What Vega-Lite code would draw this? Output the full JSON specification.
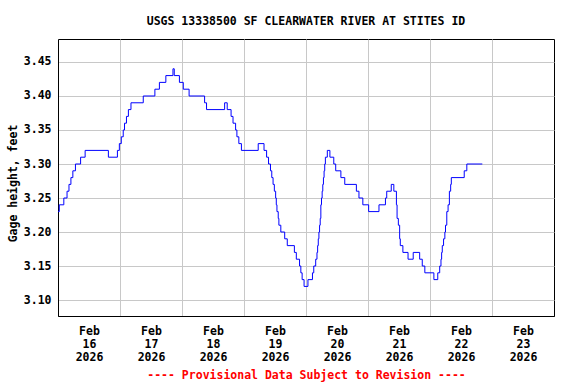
{
  "$schema": "https://vega.github.io/schema/vega-lite/v6.json",
  "width": 496,
  "height": 277,
  "autosize": {"type": "none"},
  "padding": {"left": 58, "top": 39, "right": 22, "bottom": 68},
  "background": "white",
  "config": {
    "font": "DejaVu Sans Mono",
    "view": {"stroke": "black", "strokeWidth": 1}
  },
  "title": {
    "text": "USGS 13338500 SF CLEARWATER RIVER AT STITES ID",
    "font": "DejaVu Sans Mono",
    "fontSize": 11.5,
    "fontWeight": "bold",
    "color": "black",
    "anchor": "middle",
    "frame": "group",
    "baseline": "alphabetic",
    "offset": 3
  },
  "data": {
    "values": [
      {"t": "2026-02-16T00:00", "v": 3.23},
      {"t": "2026-02-16T00:30", "v": 3.24},
      {"t": "2026-02-16T02:15", "v": 3.25},
      {"t": "2026-02-16T03:30", "v": 3.26},
      {"t": "2026-02-16T04:15", "v": 3.27},
      {"t": "2026-02-16T05:00", "v": 3.28},
      {"t": "2026-02-16T05:45", "v": 3.29},
      {"t": "2026-02-16T06:45", "v": 3.30},
      {"t": "2026-02-16T08:45", "v": 3.31},
      {"t": "2026-02-16T10:30", "v": 3.32},
      {"t": "2026-02-16T19:30", "v": 3.31},
      {"t": "2026-02-16T23:00", "v": 3.32},
      {"t": "2026-02-16T23:45", "v": 3.33},
      {"t": "2026-02-17T00:30", "v": 3.34},
      {"t": "2026-02-17T01:15", "v": 3.35},
      {"t": "2026-02-17T01:45", "v": 3.36},
      {"t": "2026-02-17T02:30", "v": 3.37},
      {"t": "2026-02-17T03:15", "v": 3.38},
      {"t": "2026-02-17T04:15", "v": 3.39},
      {"t": "2026-02-17T09:00", "v": 3.40},
      {"t": "2026-02-17T13:30", "v": 3.41},
      {"t": "2026-02-17T15:15", "v": 3.42},
      {"t": "2026-02-17T17:45", "v": 3.43},
      {"t": "2026-02-17T20:30", "v": 3.44},
      {"t": "2026-02-17T21:00", "v": 3.43},
      {"t": "2026-02-17T23:00", "v": 3.42},
      {"t": "2026-02-18T00:30", "v": 3.41},
      {"t": "2026-02-18T02:45", "v": 3.40},
      {"t": "2026-02-18T08:45", "v": 3.39},
      {"t": "2026-02-18T09:30", "v": 3.38},
      {"t": "2026-02-18T16:30", "v": 3.39},
      {"t": "2026-02-18T17:30", "v": 3.38},
      {"t": "2026-02-18T19:00", "v": 3.37},
      {"t": "2026-02-18T19:45", "v": 3.36},
      {"t": "2026-02-18T20:45", "v": 3.35},
      {"t": "2026-02-18T21:15", "v": 3.34},
      {"t": "2026-02-18T22:00", "v": 3.33},
      {"t": "2026-02-18T23:00", "v": 3.32},
      {"t": "2026-02-19T05:30", "v": 3.33},
      {"t": "2026-02-19T07:45", "v": 3.32},
      {"t": "2026-02-19T08:45", "v": 3.31},
      {"t": "2026-02-19T09:30", "v": 3.30},
      {"t": "2026-02-19T10:15", "v": 3.29},
      {"t": "2026-02-19T10:45", "v": 3.28},
      {"t": "2026-02-19T11:15", "v": 3.27},
      {"t": "2026-02-19T11:45", "v": 3.26},
      {"t": "2026-02-19T12:15", "v": 3.25},
      {"t": "2026-02-19T12:30", "v": 3.24},
      {"t": "2026-02-19T12:45", "v": 3.23},
      {"t": "2026-02-19T13:15", "v": 3.22},
      {"t": "2026-02-19T13:30", "v": 3.21},
      {"t": "2026-02-19T14:15", "v": 3.20},
      {"t": "2026-02-19T15:45", "v": 3.19},
      {"t": "2026-02-19T16:45", "v": 3.18},
      {"t": "2026-02-19T19:30", "v": 3.17},
      {"t": "2026-02-19T20:15", "v": 3.16},
      {"t": "2026-02-19T21:30", "v": 3.15},
      {"t": "2026-02-19T22:00", "v": 3.14},
      {"t": "2026-02-19T22:30", "v": 3.13},
      {"t": "2026-02-19T23:15", "v": 3.12},
      {"t": "2026-02-20T00:45", "v": 3.13},
      {"t": "2026-02-20T02:30", "v": 3.14},
      {"t": "2026-02-20T03:00", "v": 3.15},
      {"t": "2026-02-20T03:45", "v": 3.16},
      {"t": "2026-02-20T04:15", "v": 3.17},
      {"t": "2026-02-20T04:30", "v": 3.18},
      {"t": "2026-02-20T04:45", "v": 3.19},
      {"t": "2026-02-20T05:00", "v": 3.20},
      {"t": "2026-02-20T05:15", "v": 3.21},
      {"t": "2026-02-20T05:30", "v": 3.22},
      {"t": "2026-02-20T05:45", "v": 3.24},
      {"t": "2026-02-20T06:00", "v": 3.25},
      {"t": "2026-02-20T06:15", "v": 3.26},
      {"t": "2026-02-20T06:30", "v": 3.27},
      {"t": "2026-02-20T06:45", "v": 3.28},
      {"t": "2026-02-20T07:00", "v": 3.29},
      {"t": "2026-02-20T07:15", "v": 3.30},
      {"t": "2026-02-20T07:30", "v": 3.31},
      {"t": "2026-02-20T08:15", "v": 3.32},
      {"t": "2026-02-20T09:15", "v": 3.31},
      {"t": "2026-02-20T10:45", "v": 3.30},
      {"t": "2026-02-20T11:30", "v": 3.29},
      {"t": "2026-02-20T13:30", "v": 3.28},
      {"t": "2026-02-20T15:00", "v": 3.27},
      {"t": "2026-02-20T19:30", "v": 3.26},
      {"t": "2026-02-20T20:30", "v": 3.25},
      {"t": "2026-02-20T22:00", "v": 3.24},
      {"t": "2026-02-21T00:15", "v": 3.23},
      {"t": "2026-02-21T04:15", "v": 3.24},
      {"t": "2026-02-21T06:45", "v": 3.25},
      {"t": "2026-02-21T07:15", "v": 3.26},
      {"t": "2026-02-21T09:00", "v": 3.27},
      {"t": "2026-02-21T10:00", "v": 3.26},
      {"t": "2026-02-21T11:00", "v": 3.24},
      {"t": "2026-02-21T11:15", "v": 3.22},
      {"t": "2026-02-21T11:45", "v": 3.21},
      {"t": "2026-02-21T12:15", "v": 3.19},
      {"t": "2026-02-21T12:30", "v": 3.18},
      {"t": "2026-02-21T13:30", "v": 3.17},
      {"t": "2026-02-21T15:30", "v": 3.16},
      {"t": "2026-02-21T17:30", "v": 3.17},
      {"t": "2026-02-21T20:00", "v": 3.16},
      {"t": "2026-02-21T21:00", "v": 3.15},
      {"t": "2026-02-21T22:00", "v": 3.14},
      {"t": "2026-02-22T01:30", "v": 3.13},
      {"t": "2026-02-22T03:00", "v": 3.14},
      {"t": "2026-02-22T03:45", "v": 3.15},
      {"t": "2026-02-22T04:15", "v": 3.16},
      {"t": "2026-02-22T04:30", "v": 3.17},
      {"t": "2026-02-22T04:45", "v": 3.18},
      {"t": "2026-02-22T05:15", "v": 3.19},
      {"t": "2026-02-22T05:45", "v": 3.20},
      {"t": "2026-02-22T06:00", "v": 3.21},
      {"t": "2026-02-22T06:30", "v": 3.23},
      {"t": "2026-02-22T07:00", "v": 3.24},
      {"t": "2026-02-22T07:30", "v": 3.26},
      {"t": "2026-02-22T08:00", "v": 3.27},
      {"t": "2026-02-22T08:15", "v": 3.28},
      {"t": "2026-02-22T13:15", "v": 3.29},
      {"t": "2026-02-22T14:15", "v": 3.30},
      {"t": "2026-02-22T20:15", "v": 3.30}
    ]
  },
  "mark": {"type": "line", "interpolate": "step-after", "color": "#0000FF", "strokeWidth": 1},
  "encoding": {
    "x": {
      "field": "t",
      "type": "temporal",
      "scale": {"domain": [{"year": 2026, "month": 2, "date": 16}, {"year": 2026, "month": 2, "date": 24}]},
      "axis": {
        "values": [
          {"year": 2026, "month": 2, "date": 16},
          {"year": 2026, "month": 2, "date": 17},
          {"year": 2026, "month": 2, "date": 18},
          {"year": 2026, "month": 2, "date": 19},
          {"year": 2026, "month": 2, "date": 20},
          {"year": 2026, "month": 2, "date": 21},
          {"year": 2026, "month": 2, "date": 22},
          {"year": 2026, "month": 2, "date": 23}
        ],
        "labelExpr": "[timeFormat(datum.value, '%b'), timeFormat(datum.value, '%d'), timeFormat(datum.value, '%Y')]",
        "labelOffset": 31,
        "labelFlush": false,
        "labelOverlap": false,
        "labelFont": "DejaVu Sans Mono",
        "labelFontSize": 11.5,
        "labelFontWeight": "bold",
        "labelColor": "black",
        "labelPadding": 9,
        "labelLineHeight": 13,
        "ticks": false,
        "domain": true,
        "domainColor": "black",
        "grid": true,
        "gridColor": "#c8c8c8",
        "gridWidth": 1,
        "title": "---- Provisional Data Subject to Revision ----",
        "titleColor": "#ff0000",
        "titleFont": "DejaVu Sans Mono",
        "titleFontSize": 11.5,
        "titleFontWeight": "bold",
        "titleAnchor": "middle",
        "titleAlign": "center",
        "titleX": 248,
        "titleY": 62,
        "titleBaseline": "alphabetic"
      }
    },
    "y": {
      "field": "v",
      "type": "quantitative",
      "scale": {"domain": [3.0765, 3.4838], "nice": false, "zero": false},
      "axis": {
        "values": [3.10, 3.15, 3.20, 3.25, 3.30, 3.35, 3.40, 3.45],
        "format": ".2f",
        "labelFont": "DejaVu Sans Mono",
        "labelFontSize": 11.5,
        "labelFontWeight": "bold",
        "labelColor": "black",
        "labelPadding": 7,
        "ticks": false,
        "domain": true,
        "domainColor": "black",
        "grid": true,
        "gridColor": "#c8c8c8",
        "gridWidth": 1,
        "title": "Gage height, feet",
        "titleColor": "black",
        "titleFont": "DejaVu Sans Mono",
        "titleFontSize": 11.5,
        "titleFontWeight": "bold",
        "titleAngle": 270,
        "titleAlign": "center",
        "titleBaseline": "alphabetic",
        "titleX": -42,
        "titleY": 144
      }
    }
  }
}
